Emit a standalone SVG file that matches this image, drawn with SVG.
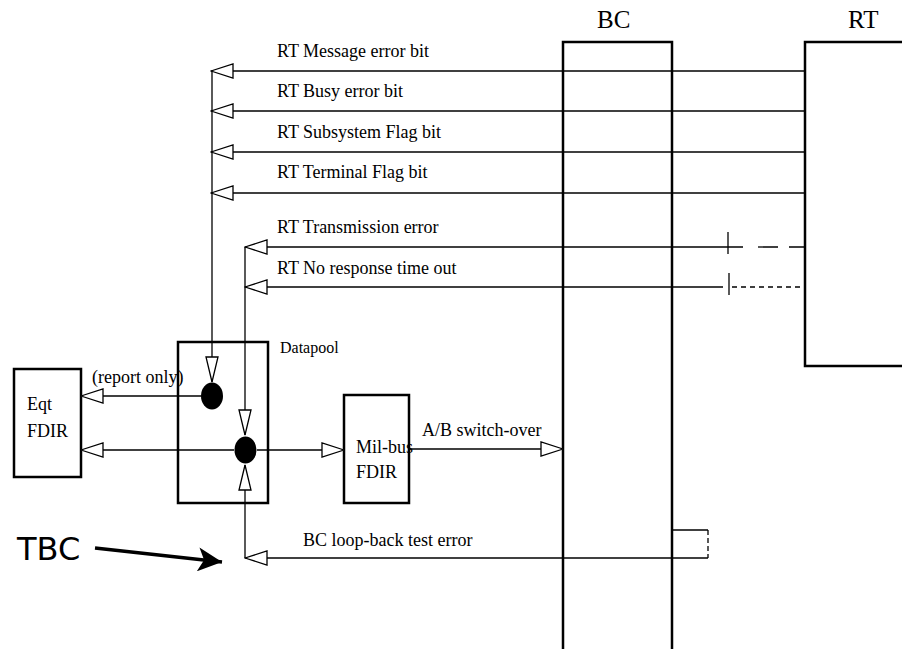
<svg xmlns="http://www.w3.org/2000/svg" width="902" height="649" viewBox="0 0 902 649">
<style>
text{font-family:"Liberation Serif","Times New Roman",serif;font-size:18px;fill:#000}
.big{font-size:25px}
.sm{font-size:16px}
.tbc{font-family:"DejaVu Sans","Liberation Sans",sans-serif;font-size:32px}
.box{fill:#fff;stroke:#000;stroke-width:2.5}
.blk{fill:none;stroke:#000;stroke-width:2.5}
.ln{fill:none;stroke:#000;stroke-width:1.3}
.dot{fill:#000}
</style>
<defs>
<marker id="ah" viewBox="-1 -1 24 16" refX="22" refY="7" markerWidth="24" markerHeight="16" orient="auto" markerUnits="userSpaceOnUse">
<path d="M22,7 L0,0 L0,14 Z" fill="#fff" stroke="#000" stroke-width="1.3"/>
</marker>
<marker id="av" viewBox="-1 -1 28 14" refX="25" refY="6" markerWidth="28" markerHeight="14" orient="auto" markerUnits="userSpaceOnUse">
<path d="M25,6 L0,0 L0,12 Z" fill="#fff" stroke="#000" stroke-width="1.3"/>
</marker>
<marker id="af" viewBox="0 0 26 24" refX="24" refY="12" markerWidth="26" markerHeight="24" orient="auto" markerUnits="userSpaceOnUse">
<path d="M24,12 L0,0 L6,12 L0,24 Z" fill="#000"/>
</marker>
</defs>

<g id="bc">
<path class="blk" d="M563,649 V42 H672 V649"/>
<text class="big" x="597" y="28">BC</text>
</g>
<g id="rt">
<path class="blk" d="M904,42 H805 V366 H904"/>
<text class="big" x="848" y="28">RT</text>
</g>
<g id="datapool">
<rect class="box" x="178" y="342" width="90" height="161" stroke-width="2"/>
<text class="sm" x="280" y="353">Datapool</text>
</g>
<g id="eqt-fdir">
<rect class="box" x="14" y="369" width="67" height="108" stroke-width="2"/>
<text x="27" y="410">Eqt</text>
<text x="27" y="437">FDIR</text>
</g>
<g id="milbus-fdir">
<rect class="box" x="344" y="395" width="65" height="108" stroke-width="2"/>
<text x="356" y="453">Mil-bus</text>
<text x="356" y="478">FDIR</text>
</g>

<g id="connectors">
<path class="ln" d="M805,71 H211" marker-end="url(#ah)"/>
<path class="ln" d="M805,111 H211" marker-end="url(#ah)"/>
<path class="ln" d="M805,152 H211" marker-end="url(#ah)"/>
<path class="ln" d="M805,193 H211" marker-end="url(#ah)"/>
<path class="ln" d="M212,71 V382" marker-end="url(#av)"/>

<path class="ln" d="M743,247 H245" marker-end="url(#ah)"/>
<path class="ln" d="M758,247 H805" stroke-dasharray="20 11"/>
<path class="ln" d="M728,232 V254"/>

<path class="ln" d="M723,287 H245" marker-end="url(#ah)"/>
<path class="ln" d="M732,287 H805" stroke-dasharray="5 4"/>
<path class="ln" d="M729,273 V295"/>

<path class="ln" d="M245,247 V435" marker-end="url(#av)"/>
<path class="ln" d="M245,558 V465" marker-end="url(#av)"/>

<path class="ln" d="M708,558 H245" marker-end="url(#ah)"/>
<path class="ln" d="M673,530 H708"/>
<path class="ln" d="M708,530 V558" stroke-dasharray="5 3"/>

<path class="ln" d="M201,396 H81" marker-end="url(#ah)"/>
<path class="ln" d="M234,450 H81" marker-end="url(#ah)"/>
<path class="ln" d="M257,450 H344" marker-end="url(#ah)"/>
<path class="ln" d="M409,449 H563" marker-end="url(#ah)"/>

<ellipse class="dot" cx="212" cy="396" rx="11" ry="13.5"/>
<ellipse class="dot" cx="245.5" cy="450" rx="11" ry="13.5"/>

<path fill="none" stroke="#000" stroke-width="3.5" d="M95,548 L222,562" marker-end="url(#af)"/>
</g>

<g id="labels">
<text x="277" y="57">RT Message error bit</text>
<text x="277" y="97">RT Busy error bit</text>
<text x="277" y="138">RT Subsystem Flag bit</text>
<text x="277" y="178">RT Terminal Flag bit</text>
<text x="277" y="233">RT Transmission error</text>
<text x="277" y="274">RT No response time out</text>
<text x="92" y="383">(report only)</text>
<text x="422" y="436">A/B switch-over</text>
<text x="303" y="546">BC loop-back test error</text>
<text class="tbc" x="17" y="560">TBC</text>
</g>
</svg>
